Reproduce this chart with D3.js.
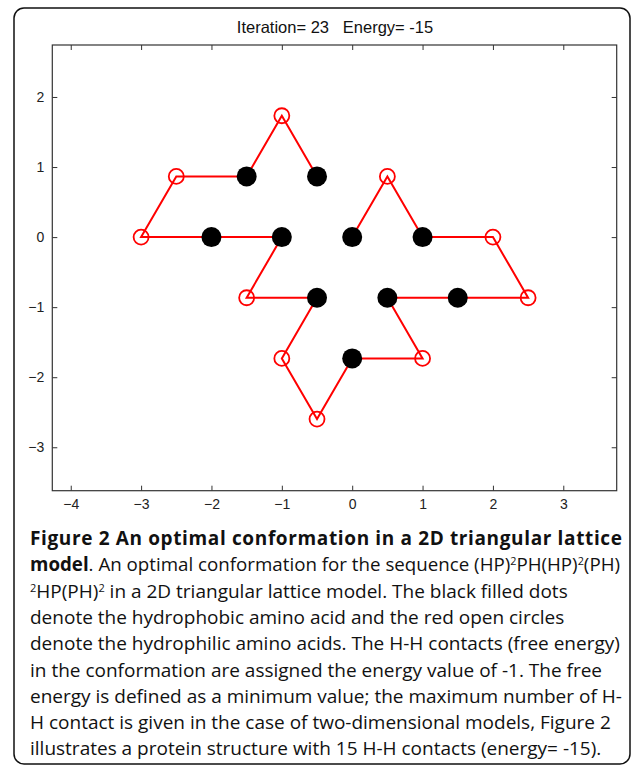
<!DOCTYPE html>
<html>
<head>
<meta charset="utf-8">
<title>Figure 2 - 2D triangular lattice</title>
<script src="https://cdn.jsdelivr.net/npm/d3@7"></script>
<style>
  body { margin: 0; background: #fff; }
  svg { display: block; }
</style>
</head>
<body>
<script>
// residues of the chain, in sequence order
var xs    = [-0.5, -1, -1.5, -2.5, -3, -2, -1, -1.5, -0.5, -1, -0.5, 0, 1, 0.5, 1.5, 2.5, 2, 1, 0.5, 0];
var ys    = [0.866, 1.732, 0.866, 0.866, 0, 0, 0, -0.866, -0.866, -1.732, -2.598, -1.732, -1.732, -0.866, -0.866, -0.866, 0, 0, 0.866, 0];
var types = ["H","P","H","P","P","H","H","P","H","P","P","H","P","H","H","P","P","H","P","H"];
var xTicks = [-4, -3, -2, -1, 0, 1, 2, 3];
var yTicks = [-3, -2, -1, 0, 1, 2];
var title = "Iteration= 23   Energy= -15";

var W = 633, H = 767;
var plot = {left: 52.3, right: 616.7, top: 45, bottom: 490.7};

var svg = d3.select("body").append("svg").attr("width", W).attr("height", H);

// outer frame
svg.append("rect")
    .attr("x", 14).attr("y", 8).attr("width", 616).attr("height", 756)
    .attr("rx", 10).attr("ry", 10)
    .attr("fill", "none").attr("stroke", "#111").attr("stroke-width", 1.5);

var x = d3.scaleLinear().domain([-4.262, 3.759]).range([plot.left, plot.right]);
var y = d3.scaleLinear().domain([-3.62, 2.742]).range([plot.bottom, plot.top]);

var g = svg.append("g");
var axisColor = "#333";

// axes - matlab style, ticks pointing inward on all four sides
function styleAxis(sel) {
    sel.select(".domain").remove();
    sel.selectAll("line").attr("stroke", axisColor).attr("stroke-width", 1);
    sel.selectAll("text").attr("fill", "#222")
        .style("font-family", "'Liberation Sans', Arial, sans-serif").style("font-size", "14px");
}
g.append("g").attr("transform", "translate(0," + plot.bottom + ")")
    .call(d3.axisBottom(x).tickValues(xTicks).tickSizeInner(-5).tickSizeOuter(0).tickPadding(8).tickFormat(d3.format("d")))
    .call(styleAxis);
g.append("g").attr("transform", "translate(0," + plot.top + ")")
    .call(d3.axisTop(x).tickValues(xTicks).tickSizeInner(-5).tickSizeOuter(0).tickFormat(""))
    .call(styleAxis);
g.append("g").attr("transform", "translate(" + plot.left + ",0)")
    .call(d3.axisLeft(y).tickValues(yTicks).tickSizeInner(-5).tickSizeOuter(0).tickPadding(8).tickFormat(d3.format("d")))
    .call(styleAxis);
g.append("g").attr("transform", "translate(" + plot.right + ",0)")
    .call(d3.axisRight(y).tickValues(yTicks).tickSizeInner(-5).tickSizeOuter(0).tickFormat(""))
    .call(styleAxis);

g.append("rect")
    .attr("x", plot.left).attr("y", plot.top)
    .attr("width", plot.right - plot.left).attr("height", plot.bottom - plot.top)
    .attr("fill", "none").attr("stroke", axisColor).attr("stroke-width", 1.2);

// title
svg.append("text")
    .attr("x", 335).attr("y", 33)
    .attr("text-anchor", "middle")
    .style("white-space", "pre")
    .style("font-family", "'Liberation Sans', Arial, sans-serif").style("font-size", "16.5px")
    .attr("fill", "#111")
    .text(title);

// chain
var pts = xs.map(function (d, i) { return {x: d, y: ys[i], t: types[i]}; });
var line = d3.line().x(function (d) { return x(d.x); }).y(function (d) { return y(d.y); });
g.append("path").datum(pts)
    .attr("d", line).attr("fill", "none").attr("stroke", "#f00").attr("stroke-width", 2);

g.selectAll("circle.h").data(pts.filter(function (d) { return d.t === "H"; }))
    .enter().append("circle").attr("class", "h")
    .attr("cx", function (d) { return x(d.x); }).attr("cy", function (d) { return y(d.y); })
    .attr("r", 10).attr("fill", "#000");

g.selectAll("circle.p").data(pts.filter(function (d) { return d.t === "P"; }))
    .enter().append("circle").attr("class", "p")
    .attr("cx", function (d) { return x(d.x); }).attr("cy", function (d) { return y(d.y); })
    .attr("r", 7.5).attr("fill", "none").attr("stroke", "#f00").attr("stroke-width", 1.8);

// caption
var capFont = "'Open Sans', 'Noto Sans', sans-serif";
var cap = svg.append("g")
    .style("font-family", capFont).style("font-size", "19px").attr("fill", "#111");
var capLines = [
    [["b", "Figure 2 An optimal conformation in a 2D triangular lattice"]],
    [["b", "model"], ["", ". An optimal conformation for the sequence (HP)"], ["s", "2"], ["", "PH(HP)"], ["s", "2"], ["", "(PH)"]],
    [["s", "2"], ["", "HP(PH)"], ["s", "2"], ["", " in a 2D triangular lattice model. The black filled dots"]],
    [["", "denote the hydrophobic amino acid and the red open circles"]],
    [["", "denote the hydrophilic amino acids. The H-H contacts (free energy)"]],
    [["", "in the conformation are assigned the energy value of -1. The free"]],
    [["", "energy is defined as a minimum value; the maximum number of H-"]],
    [["", "H contact is given in the case of two-dimensional models, Figure 2"]],
    [["", "illustrates a protein structure with 15 H-H contacts (energy= -15)."]]
];
capLines.forEach(function (parts, i) {
    var t = cap.append("text").attr("x", 30).attr("y", 545 + i * 26.3).style("white-space", "pre");
    parts.forEach(function (p, k) {
        var ts = t.append("tspan").text(p[1]);
        if (p[0] === "b") ts.attr("font-weight", "bold");
        if (p[0] === "s") ts.attr("font-size", "11px").attr("dy", -6);
        else if (k > 0 && parts[k - 1][0] === "s") ts.attr("dy", 6);
    });
    // first two lines run to the right edge of the frame
    if (i === 0) t.attr("textLength", 592).attr("lengthAdjust", "spacing");
    if (i === 1) t.attr("textLength", 590).attr("lengthAdjust", "spacingAndGlyphs");
});
</script>
</body>
</html>
